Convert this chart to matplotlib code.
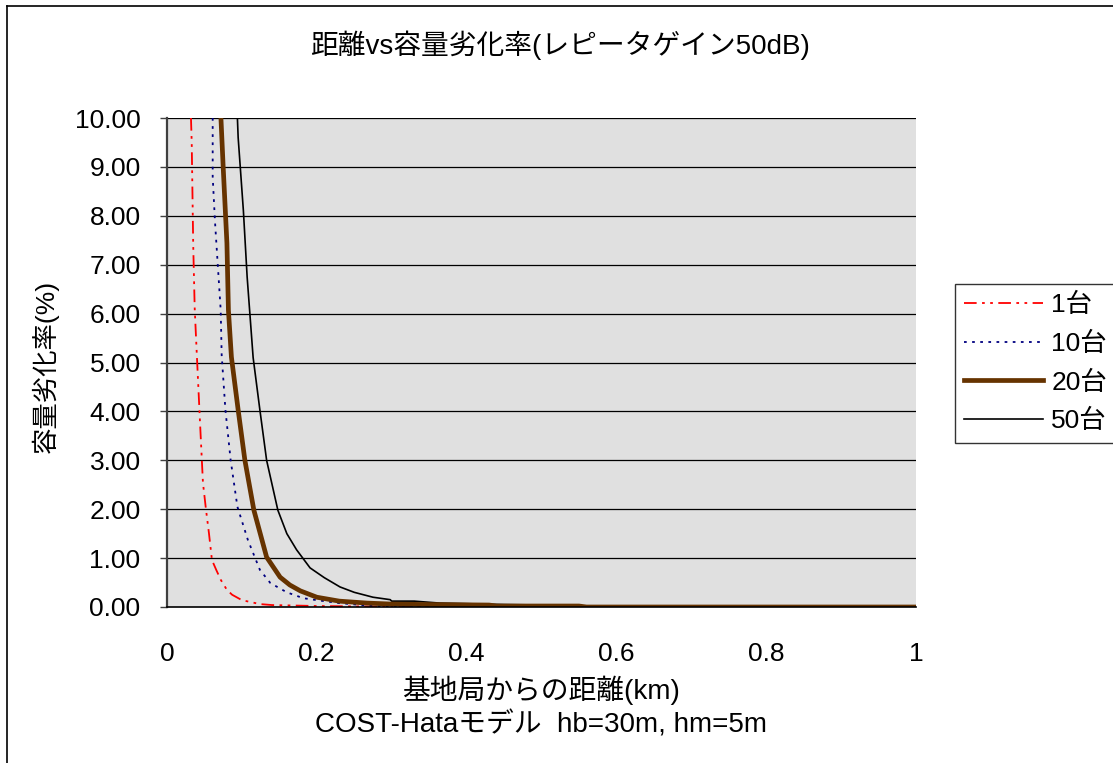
import matplotlib
matplotlib.use("Agg")
import matplotlib.pyplot as plt
from matplotlib.lines import Line2D

plt.rcParams['font.family'] = ['Liberation Sans Narrow', 'Liberation Sans', 'Noto Sans CJK JP', 'DejaVu Sans']

# ---- data ----
x_1 = [0.032, 0.033, 0.035, 0.037, 0.040, 0.044, 0.048, 0.052, 0.056, 0.060, 0.066, 0.072,
       0.080, 0.087, 0.100, 0.124, 0.14, 0.2, 0.31, 1.0]
y_1 = [10, 9.5, 7.4, 6.1, 5.1, 3.8, 2.54, 2.0, 1.51, 0.96, 0.75, 0.55,
       0.35, 0.25, 0.14, 0.06, 0.04, 0.02, 0.005, 0.0]

x_10 = [0.061, 0.061, 0.064, 0.066, 0.0717, 0.073, 0.078, 0.085, 0.094, 0.108, 0.124, 0.138,
        0.16, 0.182, 0.2, 0.23, 0.275, 0.3, 1.0]
y_10 = [10, 8.8, 7.9, 7.42, 6.07, 5.15, 4.03, 3.0, 2.05, 1.37, 0.76, 0.49,
        0.3, 0.18, 0.14, 0.08, 0.02, 0.0, 0.0]

x_20 = [0.072, 0.075, 0.080, 0.082, 0.086, 0.095, 0.104, 0.116, 0.133, 0.151, 0.164, 0.178,
        0.20, 0.23, 0.267, 0.3, 0.35, 0.43, 0.44, 0.55, 0.56, 1.0]
y_20 = [10, 9.0, 7.44, 6.07, 5.11, 4.03, 3.0, 1.98, 1.02, 0.61, 0.45, 0.33,
        0.2, 0.12, 0.08, 0.06, 0.05, 0.04, 0.02, 0.02, 0.0, 0.0]

x_50 = [0.094, 0.095, 0.102, 0.107, 0.115, 0.124, 0.133, 0.148, 0.160, 0.173, 0.191, 0.21, 0.231,
        0.25, 0.275, 0.298, 0.30, 0.33, 0.364, 0.45, 0.55, 0.56, 1.0]
y_50 = [10, 9.6, 8.1, 6.75, 5.1, 4.03, 3.0, 1.98, 1.5, 1.17, 0.8, 0.6, 0.41,
        0.3, 0.2, 0.15, 0.12, 0.12, 0.08, 0.05, 0.03, 0.01, 0.01]

series_labels = ['1台', '10台', '20台', '50台']
x_ticks = [0, 0.2, 0.4, 0.6, 0.8, 1.0]
x_ticklabels = ['0', '0.2', '0.4', '0.6', '0.8', '1']
y_ticks = [0, 1, 2, 3, 4, 5, 6, 7, 8, 9, 10]
y_ticklabels = ['%.2f' % v for v in y_ticks]

FS = 19

fig = plt.figure(figsize=(11.13, 7.63), dpi=100)
ax = fig.add_axes([167/1113, 1-607/763, (916-167)/1113, (607-118)/763])
ax.set_facecolor('#E0E0E0')

ax.plot(x_1, y_1, color='#FF0000', lw=1.3, dashes=(7, 3, 1.5, 3, 1.5, 3), label=series_labels[0])
ax.plot(x_10, y_10, color='#000080', lw=1.3, dashes=(1.5, 3), label=series_labels[1])
ax.plot(x_50, y_50, color='black', lw=1.2, label=series_labels[3])
ax.plot(x_20, y_20, color='#663300', lw=3.4, label=series_labels[2], solid_capstyle='butt')

ax.set_xlim(0, 1)
ax.set_ylim(0, 10)
ax.set_yticks(y_ticks)
ax.set_yticklabels(y_ticklabels, fontsize=FS)
ax.set_xticks(x_ticks)
ax.set_xticklabels(x_ticklabels, fontsize=FS)
ax.tick_params(axis='x', length=0, pad=25)
ax.tick_params(axis='y', length=5, width=1, color='#404040', pad=14)
for v in y_ticks[1:]:
    ax.axhline(v, color='black', lw=0.9, zorder=1)
ax.spines['top'].set_visible(False)
ax.spines['right'].set_visible(False)
ax.spines['left'].set_color('#404040')
ax.spines['left'].set_linewidth(1.6)
ax.spines['bottom'].set_color('black')
ax.spines['bottom'].set_linewidth(1.2)

fig.text(560/1113, 1-45/763, '距離vs容量劣化率(レピータゲイン50dB)', ha='center', va='center', fontsize=20)
fig.text(45/1113, 1-366/763, '容量劣化率(%)', ha='center', va='center', rotation=90, fontsize=19)
fig.text(541/1113, 1-690/763, '基地局からの距離(km)', ha='center', va='center', fontsize=20)
fig.text(541/1113, 1-725/763, 'COST-Hataモデル  hb=30m, hm=5m', ha='center', va='center', fontsize=20)

handles = [
    Line2D([], [], color='#FF0000', lw=1.3, dashes=(7, 3, 1.5, 3, 1.5, 3)),
    Line2D([], [], color='#000080', lw=1.3, dashes=(1.5, 3)),
    Line2D([], [], color='#663300', lw=3.4),
    Line2D([], [], color='black', lw=1.2),
]
leg = fig.legend(handles, series_labels, loc='upper left',
                 bbox_to_anchor=(955/1113, 1-284/763), fontsize=FS,
                 frameon=True, fancybox=False, edgecolor='black', handlelength=3.0,
                 handletextpad=0.3, labelspacing=0.55, borderpad=0.35, borderaxespad=0)
leg.get_frame().set_linewidth(1.0)

# figure border (top and left visible)
fig.add_artist(Line2D([7/1113, 7/1113], [0, 1-6/763], color='black', lw=1.2, transform=fig.transFigure))
fig.add_artist(Line2D([7/1113, 1], [1-6/763, 1-6/763], color='black', lw=1.2, transform=fig.transFigure))

fig.savefig('out.png', dpi=100)
